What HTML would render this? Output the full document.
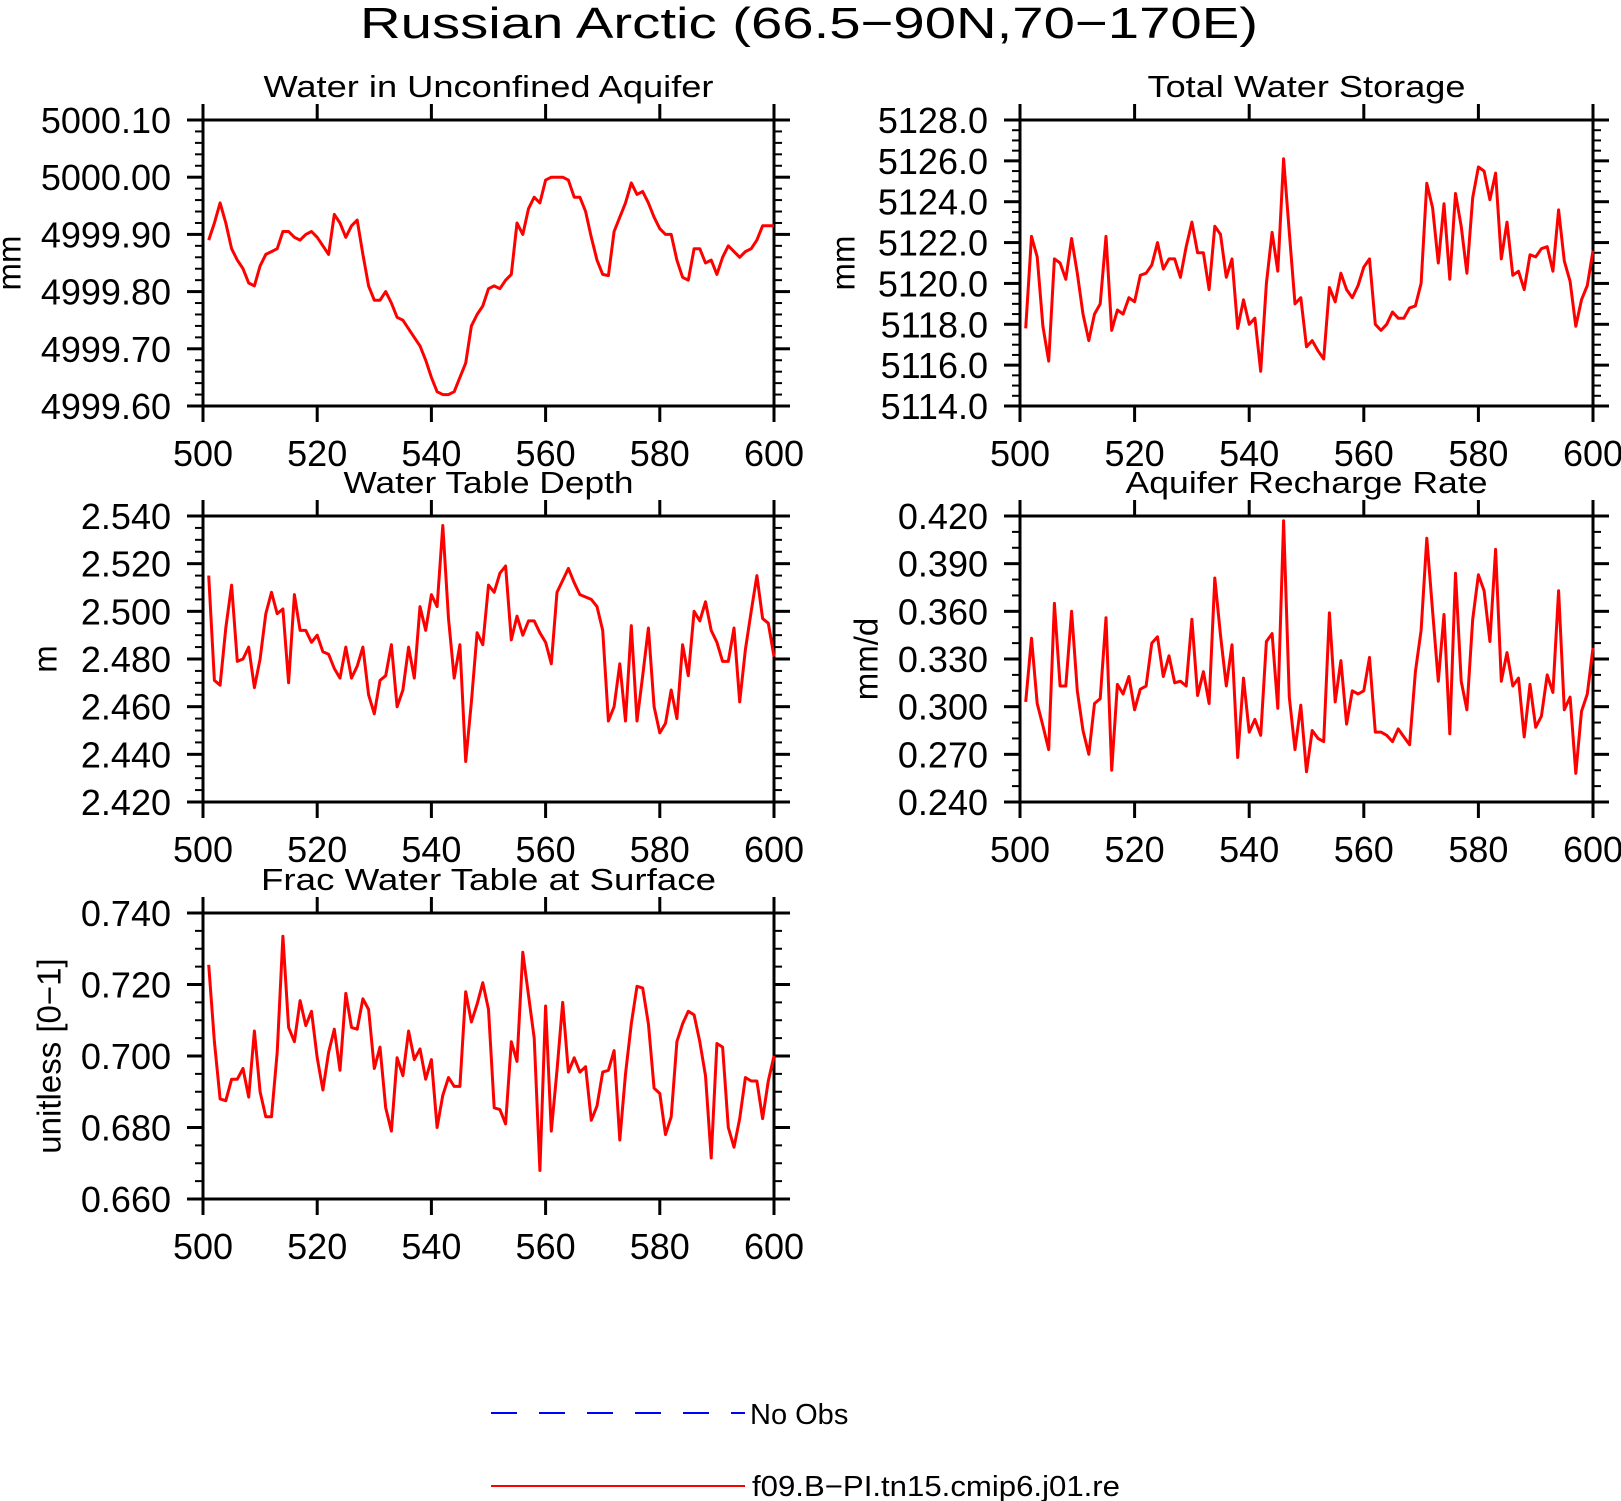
<!DOCTYPE html>
<html><head><meta charset="utf-8"><style>
html,body{margin:0;padding:0;background:#fff}
svg{display:block}
text{font-family:"Liberation Sans",sans-serif;fill:#000}
</style></head><body>
<svg id="chart" width="1621" height="1501" viewBox="0 0 1621 1501" xmlns="http://www.w3.org/2000/svg">
<text x="809" y="38" font-size="44" text-anchor="middle" textLength="898" lengthAdjust="spacingAndGlyphs">Russian Arctic (66.5−90N,70−170E)</text>
<g id="plots"></g>
<g>
<line x1="491" y1="1413" x2="745" y2="1413" stroke="#0000ff" stroke-width="2" stroke-dasharray="26 22"/>
<text x="750" y="1424" font-size="29">No Obs</text>
<line x1="491" y1="1486" x2="745" y2="1486" stroke="#ff0000" stroke-width="2"/>
<text x="752" y="1496" font-size="29" textLength="368" lengthAdjust="spacingAndGlyphs">f09.B−PI.tn15.cmip6.j01.re</text>
</g>
</svg>
<script>
const years = [];
for (let y = 501; y <= 600; y++) years.push(y);
const xTickLabels = ["500","520","540","560","580","600"];
const aquiferWater = [4999.89,4999.92,4999.955,4999.92,4999.875,4999.855,4999.84,4999.815,4999.81,4999.845,4999.865,4999.87,4999.875,4999.905,4999.905,4999.895,4999.89,4999.90,4999.905,4999.895,4999.88,4999.865,4999.935,4999.92,4999.895,4999.915,4999.925,4999.865,4999.81,4999.785,4999.785,4999.80,4999.78,4999.755,4999.75,4999.735,4999.72,4999.705,4999.68,4999.65,4999.625,4999.62,4999.62,4999.625,4999.65,4999.675,4999.74,4999.76,4999.775,4999.805,4999.81,4999.805,4999.82,4999.83,4999.92,4999.90,4999.945,4999.965,4999.955,4999.995,5000.0,5000.0,5000.0,4999.995,4999.965,4999.965,4999.94,4999.895,4999.855,4999.83,4999.828,4999.905,4999.93,4999.955,4999.99,4999.97,4999.975,4999.955,4999.93,4999.91,4999.90,4999.90,4999.855,4999.825,4999.82,4999.875,4999.875,4999.85,4999.855,4999.83,4999.86,4999.88,4999.87,4999.86,4999.87,4999.875,4999.89,4999.915,4999.915,4999.915];
const totalStorage = [5117.8,5122.3,5121.3,5117.9,5116.2,5121.2,5121.0,5120.2,5122.2,5120.5,5118.5,5117.2,5118.5,5119.0,5122.3,5117.7,5118.7,5118.5,5119.3,5119.1,5120.4,5120.5,5120.9,5122.0,5120.7,5121.2,5121.2,5120.3,5121.8,5123.0,5121.5,5121.5,5119.7,5122.8,5122.4,5120.3,5121.2,5117.8,5119.2,5118.0,5118.3,5115.7,5120.0,5122.5,5120.6,5126.1,5122.5,5119.0,5119.3,5116.9,5117.2,5116.7,5116.3,5119.8,5119.1,5120.5,5119.7,5119.3,5119.9,5120.8,5121.2,5118.0,5117.7,5118.0,5118.6,5118.3,5118.3,5118.8,5118.9,5120.0,5124.9,5123.7,5121.0,5123.9,5120.2,5124.4,5122.8,5120.5,5124.2,5125.7,5125.5,5124.1,5125.4,5121.2,5123.0,5120.4,5120.6,5119.7,5121.4,5121.3,5121.7,5121.8,5120.6,5123.6,5121.1,5120.1,5117.9,5119.2,5119.9,5121.6];
const tableDepth = [2.515,2.471,2.469,2.493,2.511,2.479,2.480,2.485,2.468,2.480,2.499,2.508,2.499,2.501,2.470,2.507,2.492,2.492,2.487,2.490,2.483,2.482,2.476,2.472,2.485,2.472,2.477,2.485,2.465,2.457,2.471,2.473,2.486,2.460,2.467,2.485,2.472,2.502,2.492,2.507,2.502,2.536,2.497,2.472,2.486,2.437,2.462,2.491,2.486,2.511,2.508,2.516,2.519,2.488,2.498,2.490,2.496,2.496,2.491,2.487,2.478,2.508,2.513,2.518,2.512,2.507,2.506,2.505,2.502,2.492,2.454,2.460,2.478,2.454,2.494,2.454,2.473,2.493,2.460,2.449,2.453,2.467,2.455,2.486,2.473,2.500,2.496,2.504,2.492,2.487,2.479,2.479,2.493,2.462,2.484,2.500,2.515,2.497,2.495,2.481];
const rechargeRate = [0.303,0.343,0.302,0.288,0.273,0.365,0.313,0.313,0.360,0.310,0.285,0.270,0.302,0.305,0.356,0.260,0.314,0.308,0.319,0.298,0.311,0.313,0.340,0.344,0.319,0.332,0.315,0.316,0.313,0.355,0.307,0.322,0.302,0.381,0.345,0.313,0.339,0.268,0.318,0.284,0.292,0.282,0.341,0.346,0.299,0.417,0.306,0.273,0.301,0.259,0.285,0.280,0.278,0.359,0.303,0.329,0.289,0.310,0.308,0.310,0.331,0.284,0.284,0.282,0.278,0.286,0.281,0.276,0.322,0.348,0.406,0.360,0.316,0.358,0.283,0.384,0.316,0.298,0.355,0.383,0.373,0.341,0.399,0.316,0.334,0.313,0.318,0.281,0.314,0.287,0.294,0.320,0.309,0.373,0.298,0.306,0.258,0.297,0.308,0.337];
const fracSurface = [0.7255,0.704,0.688,0.6875,0.6935,0.6935,0.6965,0.6885,0.707,0.690,0.683,0.683,0.701,0.7335,0.708,0.704,0.7155,0.7085,0.7125,0.6995,0.6905,0.701,0.7075,0.696,0.7175,0.708,0.7075,0.716,0.713,0.6965,0.7025,0.6855,0.679,0.6995,0.6945,0.707,0.699,0.702,0.6935,0.699,0.680,0.689,0.694,0.6915,0.6915,0.718,0.7095,0.7145,0.7205,0.713,0.6855,0.685,0.681,0.704,0.6985,0.729,0.717,0.705,0.668,0.714,0.679,0.696,0.715,0.6955,0.6995,0.6955,0.697,0.682,0.686,0.6955,0.696,0.7015,0.6765,0.695,0.709,0.7195,0.719,0.709,0.691,0.6895,0.678,0.683,0.704,0.709,0.7125,0.7115,0.704,0.6945,0.6715,0.7035,0.7025,0.680,0.6745,0.6825,0.694,0.693,0.693,0.6825,0.693,0.700];
const yTicks1 = ["4999.60","4999.70","4999.80","4999.90","5000.00","5000.10"];
const yTicks2 = ["5114.0","5116.0","5118.0","5120.0","5122.0","5124.0","5126.0","5128.0"];
const yTicks3 = ["2.420","2.440","2.460","2.480","2.500","2.520","2.540"];
const yTicks4 = ["0.240","0.270","0.300","0.330","0.360","0.390","0.420"];
const yTicks5 = ["0.660","0.680","0.700","0.720","0.740"];

const NS = "http://www.w3.org/2000/svg";
const root = document.getElementById("plots");
function mk(tag, attrs, parent) {
  const e = document.createElementNS(NS, tag);
  for (const k in attrs) e.setAttribute(k, attrs[k]);
  parent.appendChild(e);
  return e;
}
const panels = [
  {key:"aquifer-water", title:"Water in Unconfined Aquifer", tw:450, ylab:"mm", ylx:12, data:aquiferWater, ticks:yTicks1, minors:4, L:203, R:774, T:120, B:406},
  {key:"total-storage", title:"Total Water Storage", tw:318, ylab:"mm", ylx:846, data:totalStorage, ticks:yTicks2, minors:3, L:1020, R:1593, T:120, B:406},
  {key:"table-depth", title:"Water Table Depth", tw:290, ylab:"m", ylx:48, data:tableDepth, ticks:yTicks3, minors:3, L:203, R:774, T:516, B:802},
  {key:"recharge-rate", title:"Aquifer Recharge Rate", tw:362, ylab:"mm/d", ylx:869, data:rechargeRate, ticks:yTicks4, minors:2, L:1020, R:1593, T:516, B:802},
  {key:"frac-surface", title:"Frac Water Table at Surface", tw:455, ylab:"unitless  [0−1]", ylx:52, data:fracSurface, ticks:yTicks5, minors:3, L:203, R:774, T:913, B:1199}
];
panels.forEach(p => {
  const g = mk("g", {}, root);
  
  
  const ymin = parseFloat(p.ticks[0]), ymax = parseFloat(p.ticks[p.ticks.length-1]);
  const xmin = parseFloat(xTickLabels[0]), xmax = parseFloat(xTickLabels[xTickLabels.length-1]);
  const xs = v => p.L + (v - xmin) / (xmax - xmin) * (p.R - p.L);
  const ys = v => p.B - (v - ymin) / (ymax - ymin) * (p.B - p.T);
  const cx = (p.L + p.R) / 2;
  const t = mk("text", {x:cx, y:p.T - 23, "font-size":31, "text-anchor":"middle", textLength:p.tw, lengthAdjust:"spacingAndGlyphs"}, g);
  t.textContent = p.title;
  
  
  const yl = mk("text", {x:p.ylx, y:(p.T+p.B)/2, "font-size":33, "text-anchor":"middle", "dominant-baseline":"middle", transform:`rotate(-90 ${p.ylx} ${(p.T+p.B)/2})`}, g);
  yl.textContent = p.ylab;
  
  
  const n = p.ticks.length;
  for (let i = 0; i < n; i++) {
    const v = parseFloat(p.ticks[i]);
    const y = ys(v);
    mk("line", {x1:p.L-16, y1:y, x2:p.L, y2:y, stroke:"#000", "stroke-width":3}, g);
    mk("line", {x1:p.R, y1:y, x2:p.R+16, y2:y, stroke:"#000", "stroke-width":3}, g);
    const lt = mk("text", {x:p.L-32, y:y+13, "font-size":36, "text-anchor":"end"}, g);
    lt.textContent = p.ticks[i];
    
    
    if (i < n - 1) {
      const step = (parseFloat(p.ticks[i+1]) - v) / (p.minors + 1);
      for (let m = 1; m <= p.minors; m++) {
        const ym = ys(v + step * m);
        mk("line", {x1:p.L-8, y1:ym, x2:p.L, y2:ym, stroke:"#000", "stroke-width":2}, g);
        mk("line", {x1:p.R, y1:ym, x2:p.R+8, y2:ym, stroke:"#000", "stroke-width":2}, g);
      }
    }
  }
  xTickLabels.forEach(lbl => {
    const x = xs(parseFloat(lbl));
    mk("line", {x1:x, y1:p.B, x2:x, y2:p.B+16, stroke:"#000", "stroke-width":3}, g);
    mk("line", {x1:x, y1:p.T-16, x2:x, y2:p.T, stroke:"#000", "stroke-width":3}, g);
    const xt = mk("text", {x:x, y:p.B+60, "font-size":36, "text-anchor":"middle"}, g);
    xt.textContent = lbl;
    
    
  });
  const fr = mk("rect", {x:p.L, y:p.T, width:p.R-p.L, height:p.B-p.T, fill:"none", stroke:"#000", "stroke-width":3}, g);
  
  
  const pts = p.data.map((v, i) => xs(years[i]).toFixed(1) + "," + ys(v).toFixed(1)).join(" ");
  const pl = mk("polyline", {points:pts, fill:"none", stroke:"#ff0000", "stroke-width":3, "stroke-linejoin":"round"}, g);
  
  
});
</script>
</body></html>
